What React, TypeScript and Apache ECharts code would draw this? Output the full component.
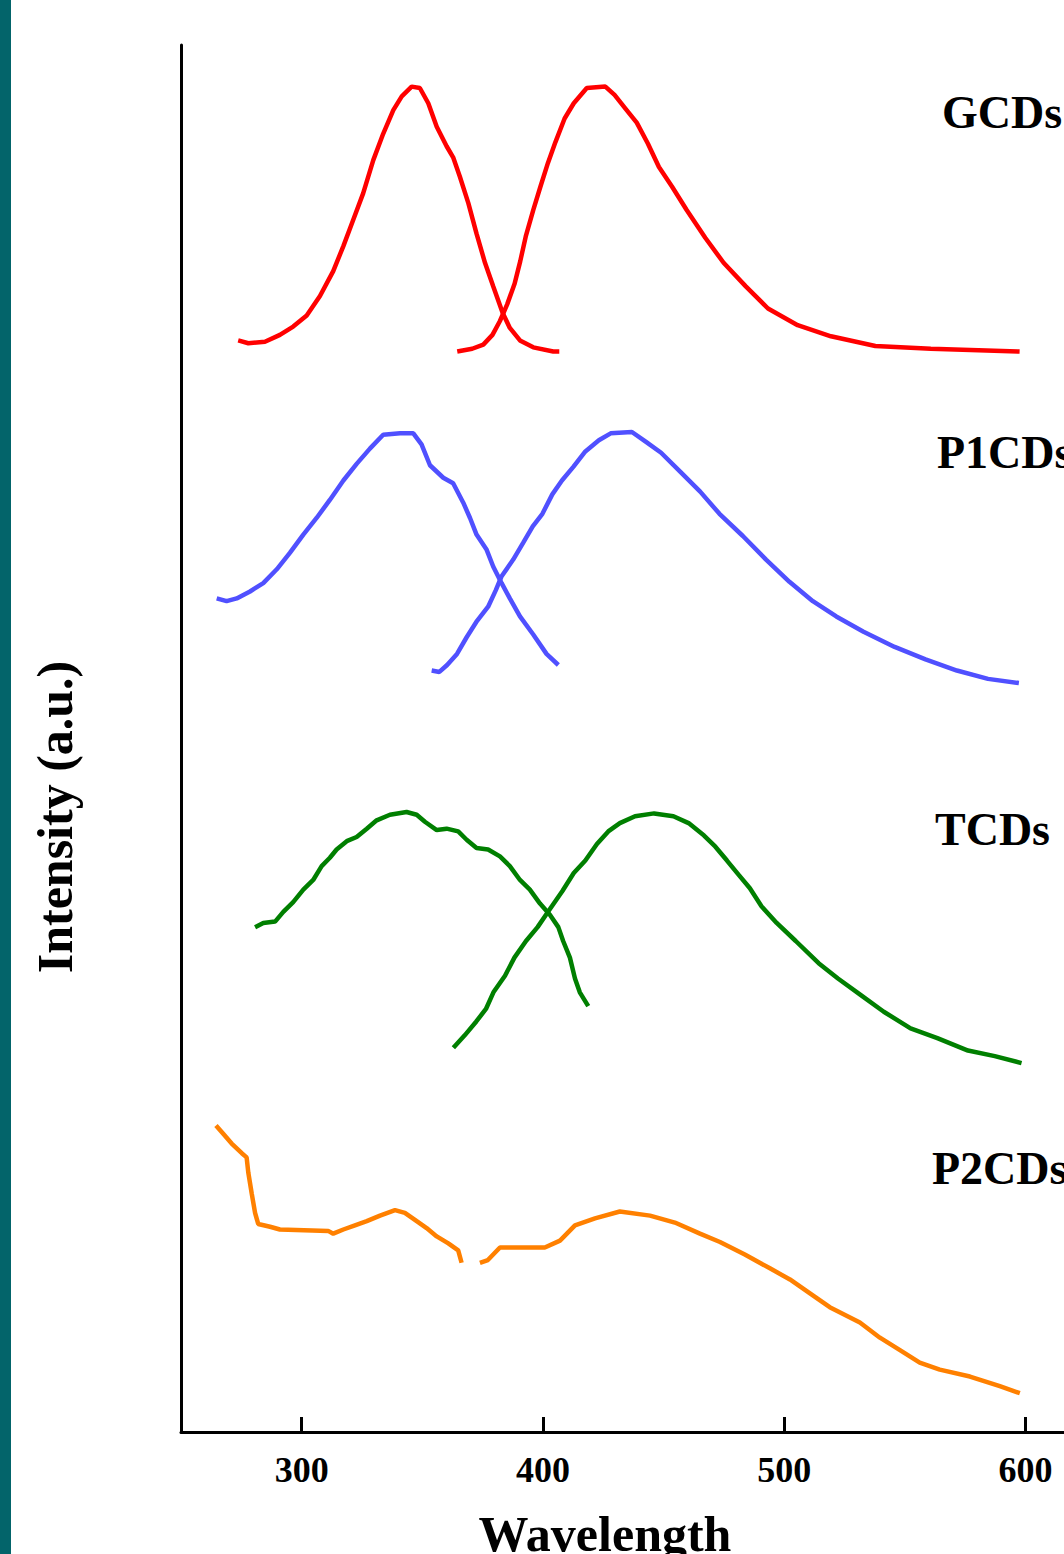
import React, { useEffect, useRef } from "react";
import * as echarts from "echarts";

// Wavelength (nm) / intensity (a.u., 0-100 scale of the plot height)
const gcdExWl = [273.7, 277.9, 284.8, 291.0, 296.5, 302.1, 307.6, 313.1, 317.3, 321.4, 325.5, 329.7, 333.8, 338.0, 341.5, 345.6, 349.0, 352.5, 356.0, 360.1, 362.8, 365.6, 369.1, 372.5, 376.0, 379.4, 383.3, 386.3, 390.5, 396.0, 404.3, 406.8];
const gcdExI = [78.7, 78.5, 78.6, 79.1, 79.7, 80.5, 81.9, 83.7, 85.5, 87.4, 89.3, 91.7, 93.6, 95.3, 96.3, 97.0, 96.9, 95.8, 94.1, 92.7, 91.9, 90.5, 88.6, 86.4, 84.3, 82.6, 80.7, 79.6, 78.7, 78.2, 77.9, 77.9];
const gcdEmWl = [364.5, 370.7, 375.3, 379.1, 382.2, 385.2, 388.3, 390.6, 392.9, 396.0, 399.0, 402.1, 405.2, 409.0, 412.8, 418.2, 425.9, 429.7, 434.3, 438.9, 443.5, 448.1, 453.5, 459.6, 467.3, 474.9, 484.1, 493.3, 505.6, 519.4, 537.8, 560.8, 597.6];
const gcdEmI = [77.9, 78.1, 78.4, 79.1, 80.1, 81.3, 82.8, 84.4, 86.2, 88.1, 89.8, 91.5, 93.0, 94.7, 95.8, 96.9, 97.0, 96.4, 95.4, 94.4, 92.9, 91.2, 89.8, 88.1, 86.1, 84.3, 82.6, 81.0, 79.8, 79.0, 78.3, 78.1, 77.9];

const p1ExWl = [264.8, 268.9, 273.1, 278.6, 284.1, 289.7, 295.2, 300.7, 306.2, 311.7, 317.3, 322.8, 328.3, 333.8, 340.8, 346.3, 349.7, 353.2, 358.7, 362.8, 367.0, 369.8, 372.5, 376.7, 379.4, 382.9, 386.3, 390.5, 396.0, 401.5, 406.4];
const p1ExI = [60.1, 59.9, 60.1, 60.6, 61.2, 62.2, 63.4, 64.7, 65.9, 67.2, 68.6, 69.8, 70.9, 71.9, 72.0, 72.0, 71.2, 69.7, 68.8, 68.4, 67.0, 65.9, 64.7, 63.6, 62.4, 61.2, 60.1, 58.8, 57.5, 56.1, 55.3];
const p1EmWl = [353.9, 357.1, 360.3, 364.4, 368.4, 372.4, 377.3, 380.5, 382.9, 387.7, 391.8, 395.8, 399.8, 403.9, 407.9, 412.7, 417.6, 423.2, 428.1, 436.9, 442.6, 449.0, 457.1, 465.2, 473.2, 482.9, 492.5, 502.2, 511.9, 521.6, 532.9, 545.8, 558.6, 571.6, 584.5, 597.3];
const p1EmI = [54.9, 54.8, 55.3, 56.1, 57.3, 58.4, 59.5, 60.7, 61.7, 62.9, 64.1, 65.3, 66.2, 67.6, 68.6, 69.6, 70.7, 71.5, 72.0, 72.1, 71.4, 70.6, 69.2, 67.8, 66.2, 64.6, 62.9, 61.3, 59.9, 58.8, 57.7, 56.6, 55.7, 54.9, 54.3, 54.0];

const tExWl = [280.7, 284.1, 289.0, 292.4, 296.5, 300.7, 304.8, 308.3, 311.7, 314.5, 318.7, 322.8, 327.0, 331.1, 336.6, 343.5, 347.7, 351.1, 356.0, 360.1, 364.9, 368.4, 372.5, 377.3, 382.2, 386.3, 390.5, 394.6, 398.8, 402.9, 406.4, 408.4, 411.2, 413.3, 415.3, 418.8];
const tExI = [36.4, 36.7, 36.8, 37.5, 38.2, 39.1, 39.8, 40.8, 41.4, 42.0, 42.6, 42.9, 43.5, 44.1, 44.5, 44.7, 44.5, 44.0, 43.4, 43.5, 43.3, 42.7, 42.1, 42.0, 41.5, 40.8, 39.8, 39.1, 38.1, 37.3, 36.4, 35.4, 34.2, 32.7, 31.7, 30.7];
const tEmWl = [362.9, 367.6, 372.4, 376.4, 379.5, 384.3, 388.2, 393.0, 397.8, 402.5, 408.1, 412.8, 417.6, 422.4, 427.1, 431.9, 438.2, 446.1, 454.1, 460.4, 466.8, 471.5, 476.3, 481.0, 485.8, 490.6, 496.9, 504.8, 514.3, 522.3, 531.8, 541.3, 552.4, 563.5, 576.2, 587.3, 598.4];
const tEmI = [27.7, 28.6, 29.6, 30.5, 31.7, 32.9, 34.2, 35.4, 36.4, 37.6, 39.0, 40.3, 41.2, 42.4, 43.3, 43.9, 44.4, 44.6, 44.4, 43.9, 43.0, 42.2, 41.2, 40.2, 39.2, 37.9, 36.7, 35.4, 33.8, 32.7, 31.5, 30.3, 29.1, 28.4, 27.5, 27.1, 26.6];

const p2ExWl = [264.5, 267.5, 271.0, 275.2, 277.2, 277.9, 279.3, 280.7, 282.0, 286.9, 291.0, 311.0, 313.1, 317.3, 322.1, 327.0, 332.5, 338.7, 342.8, 347.7, 351.8, 356.0, 360.8, 364.9, 366.3];
const p2ExI = [22.1, 21.5, 20.8, 20.1, 19.8, 18.7, 17.2, 15.8, 15.0, 14.8, 14.6, 14.5, 14.3, 14.6, 14.9, 15.2, 15.6, 16.0, 15.8, 15.2, 14.7, 14.1, 13.6, 13.1, 12.2];
const p2EmWl = [373.9, 377.2, 382.2, 390.5, 400.8, 407.1, 413.3, 421.6, 431.9, 444.4, 454.7, 465.1, 473.4, 483.7, 494.1, 502.4, 510.7, 518.9, 531.4, 539.7, 548.0, 556.2, 564.5, 577.0, 589.4, 597.7];
const p2EmI = [12.2, 12.4, 13.3, 13.3, 13.3, 13.8, 14.9, 15.4, 15.9, 15.6, 15.1, 14.3, 13.7, 12.8, 11.8, 11.0, 10.0, 9.0, 7.9, 6.8, 5.9, 5.0, 4.5, 4.0, 3.3, 2.8];

const xTickValues = [300, 400, 500, 600];
const sampleLabels = ["GCDs", "P1CDs", "TCDs", "P2CDs"];
const sampleColors = ["#ff0000", "#5050ff", "#007f00", "#ff8000"];

const zip = (a: number[], b: number[]) => a.map((v, i) => [v, b[i]]);

const curves = [
  { wl: gcdExWl, it: gcdExI, c: 0 },
  { wl: gcdEmWl, it: gcdEmI, c: 0 },
  { wl: p1ExWl, it: p1ExI, c: 1 },
  { wl: p1EmWl, it: p1EmI, c: 1 },
  { wl: tExWl, it: tExI, c: 2 },
  { wl: tEmWl, it: tEmI, c: 2 },
  { wl: p2ExWl, it: p2ExI, c: 3 },
  { wl: p2EmWl, it: p2EmI, c: 3 },
];

const labelPos = [
  { x: 942, y: 112 },
  { x: 937, y: 452 },
  { x: 935, y: 829 },
  { x: 932, y: 1168 },
];

const FONT = "'Liberation Serif', 'Times New Roman', serif";

export default function App() {
  const ref = useRef<HTMLDivElement>(null);
  useEffect(() => {
    if (!ref.current) return;
    const chart = echarts.init(ref.current, null, { renderer: "svg" });
    chart.setOption({
      animation: false,
      backgroundColor: "#ffffff",
      grid: { left: 181, right: 0, top: 45, bottom: 122 },
      xAxis: {
        type: "value",
        min: 250,
        max: 616,
        splitLine: { show: false },
        axisLine: { show: true, onZero: false, lineStyle: { color: "#000", width: 3 } },
        axisTick: { show: true, inside: true, length: 15, customValues: xTickValues, lineStyle: { color: "#000", width: 3 } },
        axisLabel: {
          show: true,
          customValues: xTickValues,
          margin: 20,
          color: "#000",
          fontFamily: FONT,
          fontWeight: "bold",
          fontSize: 36,
        },
      },
      yAxis: {
        type: "value",
        min: 0,
        max: 100,
        splitLine: { show: false },
        axisLine: { show: true, onZero: false, lineStyle: { color: "#000", width: 3 } },
        axisTick: { show: false },
        axisLabel: { show: false },
      },
      series: curves.map((cv) => ({
        type: "line",
        data: zip(cv.wl, cv.it),
        showSymbol: false,
        symbol: "none",
        smooth: false,
        lineStyle: { color: sampleColors[cv.c], width: 4.5 },
      })),
      graphic: [
        { type: "rect", left: 0, top: 0, shape: { x: 0, y: 0, width: 11, height: 1554 }, style: { fill: "#03646a" }, z: 100 },
        ...sampleLabels.map((t, i) => ({
          type: "text",
          x: labelPos[i].x,
          y: labelPos[i].y,
          style: {
            text: t,
            fill: "#000",
            font: `bold 46px ${FONT}`,
            align: "left",
            verticalAlign: "middle",
          },
        })),
        {
          type: "text",
          x: 605,
          y: 1534,
          style: {
            text: "Wavelength",
            fill: "#000",
            font: `bold 50px ${FONT}`,
            align: "center",
            verticalAlign: "middle",
          },
        },
        {
          type: "text",
          x: 55,
          y: 817,
          rotation: Math.PI / 2,
          style: {
            text: "Intensity (a.u.)",
            fill: "#000",
            font: `bold 50px ${FONT}`,
            align: "center",
            verticalAlign: "middle",
          },
        },
      ],
    });
    return () => chart.dispose();
  }, []);
  return (
    <div
      ref={ref}
      style={{ position: "absolute", left: 0, top: 0, width: 1064, height: 1554, background: "#fff" }}
    />
  );
}
